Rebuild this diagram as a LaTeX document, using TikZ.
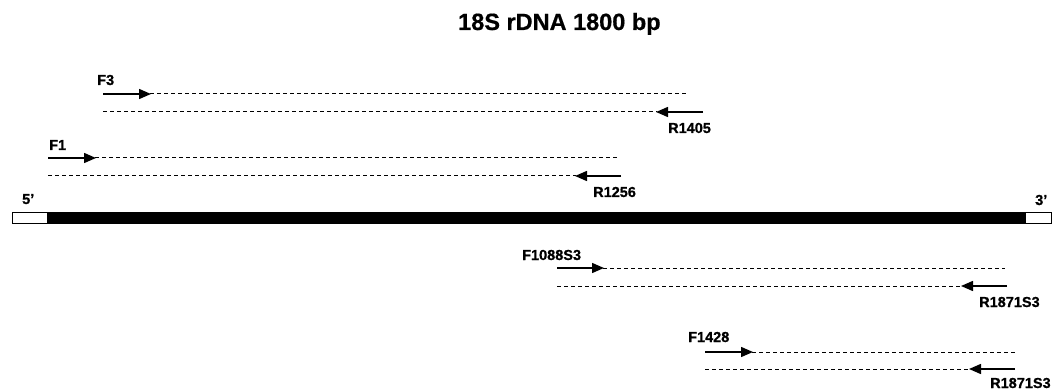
\documentclass[tikz,border=0pt]{standalone}
\usepackage{fontspec}
\setmainfont{Liberation Sans}[BoldFeatures={FakeBold=0.6}]
\usetikzlibrary{arrows.meta}
\begin{document}
\begin{tikzpicture}[x=1pt,y=-1pt,
  lbl/.style={font=\bfseries\fontsize{14.5}{14.5}\selectfont, inner sep=0pt, anchor=base west},
  ttl/.style={font=\bfseries\fontsize{23.5}{23.5}\selectfont, inner sep=0pt, anchor=base west},
  primer/.style={line width=1.5pt, -{Triangle[length=12pt,width=10pt]}, shorten >=-1pt},
  amp/.style={line width=1pt, dash pattern=on 4pt off 3pt},
  endbox/.style={draw=black, line width=0.8pt, fill=white},
  core/.style={fill=black, draw=black, line width=0.8pt}]
\useasboundingbox (0,0) rectangle (1052,390);

% title
\node[ttl] (title) at (458,30) {18S rDNA 1800 bp};

% rDNA bar
\draw[endbox] (12,212) rectangle (47,223);
\draw[core] (47,212) rectangle (1025,223);
\draw[endbox] (1025,212) rectangle (1051.6,223);
\node[lbl] (five) at (22,204) {5'};
\node[lbl] (three) at (1035,205) {3'};

% F3 / R1405
\coordinate (f3s) at (103,94); \coordinate (f3t) at (150,94); \coordinate (f3e) at (688,94);
\coordinate (r14s) at (103,112); \coordinate (r14t) at (657,112); \coordinate (r14e) at (703,112);
\node[lbl] (F3) at (97,85) {F3};
\node[lbl] (R1405) at (668,133) {R1405};
\draw[primer] (f3s) -- (f3t);
\draw[amp] (f3t) -- (f3e);
\draw[amp] (r14s) -- (r14t);
\draw[primer] (r14e) -- (r14t);

% F1 / R1256
\coordinate (f1s) at (48,158); \coordinate (f1t) at (95,158); \coordinate (f1e) at (618,158);
\coordinate (r12s) at (48,176); \coordinate (r12t) at (576,176); \coordinate (r12e) at (621,176);
\node[lbl] (F1) at (49,150) {F1};
\node[lbl] (R1256) at (593,197) {R1256};
\draw[primer] (f1s) -- (f1t);
\draw[amp] (f1t) -- (f1e);
\draw[amp] (r12s) -- (r12t);
\draw[primer] (r12e) -- (r12t);

% F1088S3 / R1871S3
\coordinate (f10s) at (557,268); \coordinate (f10t) at (603,268); \coordinate (f10e) at (1005,268);
\coordinate (r18s) at (557,286); \coordinate (r18t) at (962,286); \coordinate (r18e) at (1007,286);
\node[lbl] (F1088S3) at (522,260) {F1088S3};
\node[lbl] (R1871S3a) at (979,307) {R1871S3};
\draw[primer] (f10s) -- (f10t);
\draw[amp] (f10t) -- (f10e);
\draw[amp] (r18s) -- (r18t);
\draw[primer] (r18e) -- (r18t);

% F1428 / R1871S3
\coordinate (f14s) at (705,352); \coordinate (f14t) at (752,352); \coordinate (f14e) at (1015,352);
\coordinate (r18bs) at (705,369); \coordinate (r18bt) at (970,369); \coordinate (r18be) at (1015,369);
\node[lbl] (F1428) at (688,342) {F1428};
\node[lbl] (R1871S3b) at (990,388) {R1871S3};
\draw[primer] (f14s) -- (f14t);
\draw[amp] (f14t) -- (f14e);
\draw[amp] (r18bs) -- (r18bt);
\draw[primer] (r18be) -- (r18bt);
\end{tikzpicture}
\end{document}
